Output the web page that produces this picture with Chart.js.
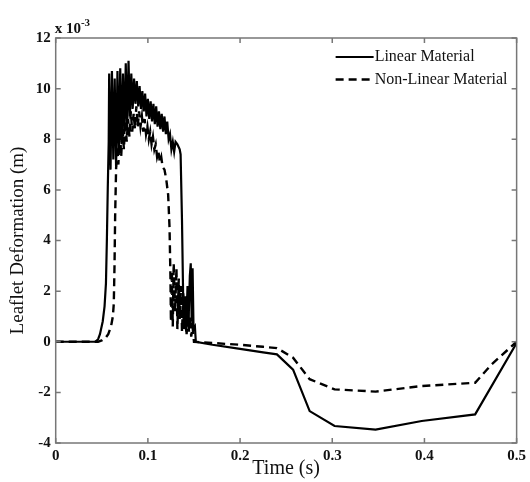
<!DOCTYPE html>
<html>
<head>
<meta charset="utf-8">
<script src="https://cdn.jsdelivr.net/npm/chart.js@4/dist/chart.umd.min.js"></script>
<style>
  html, body { margin: 0; padding: 0; background: #fff; }
  #wrap { width: 530px; height: 482px; }
</style>
</head>
<body>
<div id="wrap"><canvas id="chart" width="530" height="482"></canvas></div>
<script>
// values in units of 1e-3 m
const timeLinear = [0, 0.043, 0.046, 0.048, 0.051, 0.053, 0.0545, 0.0555, 0.0565, 0.0575, 0.058,
  0.0595, 0.061, 0.0625, 0.064, 0.0655, 0.067, 0.0685, 0.070, 0.0715, 0.073, 0.0745, 0.076, 0.0775, 0.079,
  0.0805, 0.082, 0.0835, 0.085, 0.0865, 0.088, 0.0895, 0.091, 0.0925, 0.094, 0.0955, 0.097, 0.0985, 0.100,
  0.1015, 0.103, 0.1045, 0.106, 0.1075, 0.109, 0.1105, 0.112, 0.1135, 0.115, 0.1165, 0.118, 0.1195, 0.121,
  0.1225, 0.124, 0.1255, 0.127, 0.1285, 0.130, 0.132, 0.1345, 0.1355, 0.137, 0.1385, 0.139, 0.1405, 0.1415,
  0.143, 0.144, 0.1455, 0.1465, 0.1475, 0.1485, 0.1495, 0.151, 0.152, 0.17, 0.2, 0.225, 0.24, 0.2575,
  0.2755, 0.3025, 0.347, 0.397, 0.455, 0.5];
const defLinear = [0, 0, 0.1, 0.3, 0.8, 1.4, 2.3, 4.0, 6.1, 7.9, 10.6,
  6.8, 10.7, 7.2, 10.4, 6.9, 10.7, 7.5, 10.8, 7.8, 10.6, 8.2, 11.0, 8.4, 11.1,
  8.9, 10.6, 9.2, 10.4, 9.4, 10.3, 9.3, 10.1, 9.2, 9.9, 9.1, 9.8, 8.9, 9.6,
  8.8, 9.5, 8.7, 9.4, 8.6, 9.3, 8.5, 9.1, 8.4, 9.0, 8.3, 8.9, 8.2, 8.7,
  8.0, 8.2, 7.6, 7.9, 7.5, 7.9, 7.8, 7.6, 7.4, 4.8, 1.2, 0.5, 1.8, 0.4,
  2.2, 0.6, 2.6, 3.1, 0.8, 2.9, 0.5, 0.6, 0.0, -0.12, -0.28, -0.42, -0.5, -1.1,
  -2.74, -3.33, -3.47, -3.13, -2.87, -0.05];

const timeNonLinear = [0, 0.046, 0.050, 0.054, 0.057, 0.060, 0.062, 0.063, 0.0638, 0.0645, 0.0655, 0.0665,
  0.068, 0.0695, 0.071, 0.0725, 0.074, 0.0755, 0.077, 0.0785, 0.080, 0.0815, 0.083, 0.0845, 0.086, 0.0875,
  0.089, 0.0905, 0.092, 0.0935, 0.095, 0.0965, 0.098, 0.0995, 0.101, 0.1025, 0.104, 0.1055, 0.107, 0.1085,
  0.110, 0.1115, 0.113, 0.1145, 0.116, 0.118, 0.120, 0.122, 0.1235, 0.1245, 0.125, 0.126, 0.127, 0.128,
  0.1295, 0.131, 0.132, 0.1335, 0.1345, 0.136, 0.137, 0.1385, 0.1395, 0.141, 0.142, 0.1435, 0.1445, 0.146,
  0.147, 0.1485, 0.150, 0.17, 0.2, 0.225, 0.24, 0.2575, 0.2755, 0.3025, 0.347, 0.397, 0.455, 0.473, 0.5];
const defNonLinear = [0, 0, 0.05, 0.15, 0.3, 0.6, 1.0, 1.5, 3.0, 5.0, 6.8, 8.0,
  7.0, 8.6, 7.3, 8.4, 7.6, 9.0, 7.9, 8.8, 8.1, 9.1, 8.3, 9.0, 8.4, 9.3,
  8.5, 9.1, 8.5, 8.9, 8.3, 8.8, 8.2, 8.5, 8.0, 8.3, 7.8, 8.1, 7.6, 7.8,
  7.3, 7.5, 7.1, 7.3, 6.9, 6.8, 6.4, 5.8, 4.5, 2.5, 0.8, 2.8, 0.6, 3.1,
  1.2, 2.9, 0.5, 2.5, 0.9, 2.2, 0.4, 1.9, 0.7, 1.6, 0.3, 1.2, 0.4, 1.0,
  0.2, 0.6, 0.0, -0.05, -0.12, -0.2, -0.25, -0.63, -1.48, -1.88, -1.97, -1.75, -1.62, -0.89, 0.0];

const xTicks = [0, 0.1, 0.2, 0.3, 0.4, 0.5];
const yTicks = [-4, -2, 0, 2, 4, 6, 8, 10, 12];
const seriesNames = ['Linear Material', 'Non-Linear Material'];

const toPoints = (xs, ys) => xs.map((x, i) => ({ x: x, y: ys[i] }));
const serif = '"Liberation Serif", "Times New Roman", serif';

// box with inward ticks, exponent label and legend
const framePlugin = {
  id: 'frame',
  afterDraw(chart) {
    const { ctx, chartArea: a, scales } = chart;
    ctx.save();
    ctx.strokeStyle = '#777';
    ctx.lineWidth = 1.5;
    ctx.strokeRect(a.left, a.top, a.right - a.left, a.bottom - a.top);
    ctx.beginPath();
    xTicks.forEach(v => {
      const px = scales.x.getPixelForValue(v);
      ctx.moveTo(px, a.bottom); ctx.lineTo(px, a.bottom - 5);
      ctx.moveTo(px, a.top); ctx.lineTo(px, a.top + 5);
    });
    yTicks.forEach(v => {
      const py = scales.y.getPixelForValue(v);
      ctx.moveTo(a.left, py); ctx.lineTo(a.left + 5, py);
      ctx.moveTo(a.right, py); ctx.lineTo(a.right - 5, py);
    });
    ctx.stroke();

    // x 10^-3
    ctx.fillStyle = '#111';
    ctx.textBaseline = 'alphabetic';
    ctx.textAlign = 'left';
    ctx.font = 'bold 15px ' + serif;
    ctx.fillText('x 10', a.left - 1, a.top - 5);
    const w = ctx.measureText('x 10').width;
    ctx.font = 'bold 11px ' + serif;
    ctx.fillText('-3', a.left - 1 + w, a.top - 12);

    // legend
    ctx.font = '16px ' + serif;
    ctx.textBaseline = 'middle';
    chart.data.datasets.forEach((ds, i) => {
      const y = a.top + 19 + i * 22.5;
      const x0 = a.right - 181;
      ctx.strokeStyle = ds.borderColor;
      ctx.lineWidth = ds.borderWidth;
      ctx.setLineDash(ds.borderDash || []);
      ctx.beginPath();
      ctx.moveTo(x0, y); ctx.lineTo(x0 + 38, y);
      ctx.stroke();
      ctx.setLineDash([]);
      ctx.fillStyle = '#111';
      ctx.fillText(ds.label, x0 + 39, y);
    });
    ctx.restore();
  }
};

new Chart(document.getElementById('chart'), {
  type: 'line',
  data: {
    datasets: [
      {
        label: seriesNames[0],
        data: toPoints(timeLinear, defLinear),
        borderColor: '#000',
        borderWidth: 2.2,
        pointRadius: 0,
        tension: 0,
        fill: false
      },
      {
        label: seriesNames[1],
        data: toPoints(timeNonLinear, defNonLinear),
        borderColor: '#000',
        borderWidth: 2.4,
        borderDash: [8, 5],
        pointRadius: 0,
        tension: 0,
        fill: false
      }
    ]
  },
  options: {
    responsive: false,
    animation: false,
    layout: { padding: { top: 38, right: 10, left: 0, bottom: 0 } },
    plugins: {
      legend: { display: false },
      tooltip: { enabled: false }
    },
    scales: {
      x: {
        type: 'linear',
        min: 0,
        max: 0.5,
        afterFit: s => { s.height = 39; },
        afterBuildTicks: s => { s.ticks = xTicks.map(v => ({ value: v })); },
        grid: { display: false, drawTicks: false },
        border: { display: false },
        ticks: {
          padding: 4,
          color: '#111',
          font: { family: serif, size: 15, weight: 'bold' },
          maxRotation: 0,
          callback: v => String(Math.round(v * 10) / 10)
        },
        title: {
          display: true,
          text: 'Time (s)',
          color: '#111',
          font: { family: serif, size: 20 },
          padding: { top: 0, bottom: 1 }
        }
      },
      y: {
        min: -4,
        max: 12,
        afterFit: s => { s.width = 55.7; },
        afterBuildTicks: s => { s.ticks = yTicks.map(v => ({ value: v })); },
        grid: { display: false, drawTicks: false },
        border: { display: false },
        ticks: {
          padding: 5,
          color: '#111',
          font: { family: serif, size: 15, weight: 'bold' },
          callback: v => String(v)
        },
        title: {
          display: true,
          text: 'Leaflet Deformation (m)',
          color: '#111',
          font: { family: serif, size: 19 },
          padding: { top: 7, bottom: 0 }
        }
      }
    }
  },
  plugins: [framePlugin]
});
</script>
</body>
</html>
